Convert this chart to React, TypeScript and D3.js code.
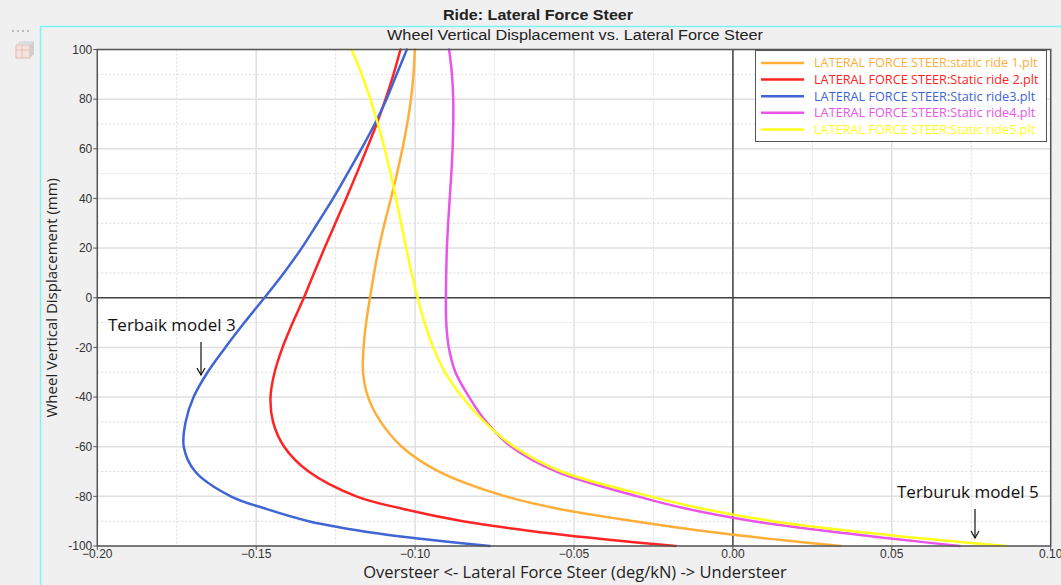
import React from "react";
import * as d3 from "d3";

// Wheel vertical displacement (mm) shared by every run
const displacement = [100, 90, 80, 70, 60, 50, 40, 30, 20, 10, 0, -10, -20, -30, -40, -50, -60, -70, -80, -85, -90, -95, -97.5, -100];

// Lateral force steer (deg/kN) for each static ride run
const ride1 = [-0.1001, -0.1005, -0.1013, -0.1025, -0.104, -0.1057, -0.1076, -0.1096, -0.1114, -0.1129, -0.1142, -0.1154, -0.1162, -0.1164, -0.1148, -0.1108, -0.1042, -0.0925, -0.0715, -0.055, -0.031, -0.003, 0.0145, 0.034];
const ride2 = [-0.1046, -0.1068, -0.1093, -0.1121, -0.1152, -0.1184, -0.1217, -0.1251, -0.1285, -0.1318, -0.135, -0.1385, -0.1417, -0.1442, -0.1455, -0.1447, -0.1412, -0.1335, -0.1185, -0.104, -0.085, -0.057, -0.039, -0.018];
const ride3 = [-0.1026, -0.1058, -0.109, -0.1127, -0.1169, -0.1213, -0.1258, -0.1307, -0.1357, -0.1413, -0.1474, -0.1537, -0.1597, -0.1653, -0.1697, -0.1722, -0.1728, -0.1692, -0.158, -0.147, -0.1335, -0.1115, -0.0955, -0.0765];
const ride4 = [-0.0893, -0.0884, -0.088, -0.088, -0.0882, -0.0886, -0.0891, -0.0896, -0.09, -0.0902, -0.0903, -0.0902, -0.0894, -0.0873, -0.083, -0.0776, -0.0697, -0.0555, -0.03, -0.0145, 0.0065, 0.0363, 0.0533, 0.0713];
const ride5 = [-0.12, -0.1168, -0.1141, -0.1117, -0.1096, -0.1077, -0.106, -0.1044, -0.1028, -0.1011, -0.0992, -0.097, -0.0943, -0.0906, -0.0852, -0.0782, -0.0688, -0.054, -0.026, -0.0095, 0.0125, 0.0445, 0.064, 0.086];

const seriesNames = [
  "LATERAL FORCE STEER:static ride 1.plt",
  "LATERAL FORCE STEER:Static ride 2.plt",
  "LATERAL FORCE STEER:Static ride3.plt",
  "LATERAL FORCE STEER:Static ride4.plt",
  "LATERAL FORCE STEER:Static ride5.plt",
];
const seriesValues = [ride1, ride2, ride3, ride4, ride5];
const seriesColors = ["#ffae3a", "#ff2424", "#4065d4", "#e955e9", "#ffff1a"];

const xTicks = [-0.2, -0.15, -0.1, -0.05, 0, 0.05, 0.1];
const xMinorTicks = [-0.175, -0.125, -0.075, -0.025, 0.025, 0.075];
const yTicks = [-100, -80, -60, -40, -20, 0, 20, 40, 60, 80, 100];
const yMinorTicks = [-90, -70, -50, -30, -10, 10, 30, 50, 70, 90];

const W = 1061;
const H = 585;
const plot = { left: 97.3, right: 1050.7, top: 49.5, bottom: 546 };

export default function App() {
  const x = d3.scaleLinear().domain([-0.2, 0.1]).range([plot.left, plot.right]);
  const y = d3.scaleLinear().domain([-100, 100]).range([plot.bottom, plot.top]);

  const line = d3
    .line<[number, number]>()
    .x((p) => x(p[0]))
    .y((p) => y(p[1]))
    .curve(d3.curveCatmullRom.alpha(0.5));

  const tickFont = "'Liberation Sans', Arial, sans-serif";
  const labelFont = "'Open Sans', 'Noto Sans', sans-serif";

  const annotations = [
    { text: "Terbaik model 3", tx: 108, ty: 331, ax: 201, ay1: 342, ay2: 375 },
    { text: "Terburuk model 5", tx: 897, ty: 498, ax: 975, ay1: 509, ay2: 538 },
  ];

  return (
    <svg
      width={W}
      height={H}
      viewBox={`0 0 ${W} ${H}`}
      style={{ position: "absolute", left: 0, top: 0, background: "#f0f0f0" }}
    >
      <rect x={0} y={0} width={W} height={H} fill="#f0f0f0" />

      {/* window chrome */}
      <line x1={40} y1={26.5} x2={W} y2={26.5} stroke="#7ff4f4" strokeWidth={1.5} />
      <line x1={40.5} y1={26} x2={40.5} y2={H} stroke="#7ff4f4" strokeWidth={1.5} />
      {[13, 18, 23, 28].map((cx) => (
        <circle key={cx} cx={cx} cy={31} r={0.8} fill="#777" />
      ))}
      <g opacity={0.8}>
        <path d="M16 45 L30 45 L30 58 L16 58 Z" fill="#f4e0dc" stroke="#e9a79a" strokeWidth={1} />
        <path d="M16 45 L20 41 L34 41 L30 45 Z" fill="#d8d8d8" />
        <path d="M30 45 L34 41 L34 54 L30 58 Z" fill="#c8c8c8" />
        <line x1={16} y1={50} x2={30} y2={50} stroke="#e9a79a" strokeWidth={0.8} />
        <line x1={22} y1={45} x2={22} y2={58} stroke="#e9a79a" strokeWidth={0.8} />
      </g>

      {/* titles */}
      <text x={538} y={20} textAnchor="middle" fontFamily={tickFont} fontWeight="bold" fontSize={15} textLength={190} lengthAdjust="spacingAndGlyphs" fill="#222">
        Ride: Lateral Force Steer
      </text>
      <text x={575} y={40} textAnchor="middle" fontFamily={tickFont} fontSize={15.5} textLength={376} lengthAdjust="spacingAndGlyphs" fill="#222">
        Wheel Vertical Displacement vs. Lateral Force Steer
      </text>

      {/* plot area */}
      <rect x={plot.left} y={plot.top} width={plot.right - plot.left} height={plot.bottom - plot.top} fill="#ffffff" />

      {/* minor grid */}
      {xMinorTicks.map((t) => (
        <line key={"xm" + t} x1={x(t)} x2={x(t)} y1={plot.top} y2={plot.bottom} stroke="#dcdcdc" strokeWidth={1} strokeDasharray="2,2" />
      ))}
      {yMinorTicks.map((t) => (
        <line key={"ym" + t} x1={plot.left} x2={plot.right} y1={y(t)} y2={y(t)} stroke="#dcdcdc" strokeWidth={1} strokeDasharray="2,2" />
      ))}
      {/* major grid */}
      {xTicks.map((t) => (
        <line key={"xg" + t} x1={x(t)} x2={x(t)} y1={plot.top} y2={plot.bottom} stroke="#e0e0e0" strokeWidth={1.5} />
      ))}
      {yTicks.map((t) => (
        <line key={"yg" + t} x1={plot.left} x2={plot.right} y1={y(t)} y2={y(t)} stroke="#e0e0e0" strokeWidth={1.5} />
      ))}

      {/* zero lines */}
      <line x1={x(0)} x2={x(0)} y1={plot.top} y2={plot.bottom} stroke="#444" strokeWidth={1.5} />
      <line x1={plot.left} x2={plot.right} y1={y(0)} y2={y(0)} stroke="#444" strokeWidth={1.5} />

      {/* curves */}
      <g fill="none" strokeWidth={2.5} strokeLinejoin="round" strokeLinecap="round">
        {seriesValues.map((vals, i) => (
          <path
            key={seriesNames[i]}
            d={line(vals.map((v, k) => [v, displacement[k]] as [number, number])) || ""}
            stroke={seriesColors[i]}
          />
        ))}
      </g>

      {/* frame */}
      <rect
        x={plot.left}
        y={plot.top}
        width={plot.right - plot.left}
        height={plot.bottom - plot.top}
        fill="none"
        stroke="#555"
        strokeWidth={1.5}
      />

      {/* axes ticks and labels */}
      {yTicks.map((t) => (
        <g key={"yt" + t}>
          <line x1={plot.left - 4} x2={plot.left} y1={y(t)} y2={y(t)} stroke="#555" strokeWidth={1} />
          <text x={plot.left - 5} y={y(t)} dy="0.35em" textAnchor="end" fontFamily={tickFont} fontSize={12} fill="#333">
            {t}
          </text>
        </g>
      ))}
      {xTicks.map((t) => (
        <g key={"xt" + t}>
          <line x1={x(t)} x2={x(t)} y1={plot.bottom} y2={plot.bottom + 4} stroke="#555" strokeWidth={1} />
          <text x={x(t)} y={plot.bottom + 12} textAnchor="middle" fontFamily={tickFont} fontSize={12} fill="#333">
            {d3.format(".2f")(t)}
          </text>
        </g>
      ))}

      <text x={575} y={578} textAnchor="middle" fontFamily={labelFont} fontSize={16.5} fill="#222">
        {"Oversteer <- Lateral Force Steer (deg/kN) -> Understeer"}
      </text>
      <text
        transform={`translate(57, ${(plot.top + plot.bottom) / 2}) rotate(-90)`}
        textAnchor="middle"
        fontFamily={labelFont}
        fontSize={15}
        fill="#222"
      >
        Wheel Vertical Displacement (mm)
      </text>

      {/* legend */}
      <rect x={755.5} y={50.5} width={291} height={91} fill="#ffffff" stroke="#555" strokeWidth={1} />
      {seriesNames.map((name, i) => {
        const ly = 63 + i * 16.6;
        return (
          <g key={"lg" + name}>
            <line x1={761} x2={804} y1={ly} y2={ly} stroke={seriesColors[i]} strokeWidth={2.5} />
            <text x={814} y={ly} dy="0.35em" fontFamily={labelFont} fontSize={12.7} fill={seriesColors[i]}>
              {name}
            </text>
          </g>
        );
      })}

      {/* annotations */}
      {annotations.map((a) => (
        <g key={a.text}>
          <text x={a.tx} y={a.ty} fontFamily={labelFont} fontSize={17} fill="#111">
            {a.text}
          </text>
          <line x1={a.ax} x2={a.ax} y1={a.ay1} y2={a.ay2} stroke="#111" strokeWidth={1.2} />
          <path
            d={`M${a.ax - 4} ${a.ay2 - 7} L${a.ax} ${a.ay2} L${a.ax + 4} ${a.ay2 - 7}`}
            fill="none"
            stroke="#111"
            strokeWidth={1.2}
          />
        </g>
      ))}
    </svg>
  );
}
